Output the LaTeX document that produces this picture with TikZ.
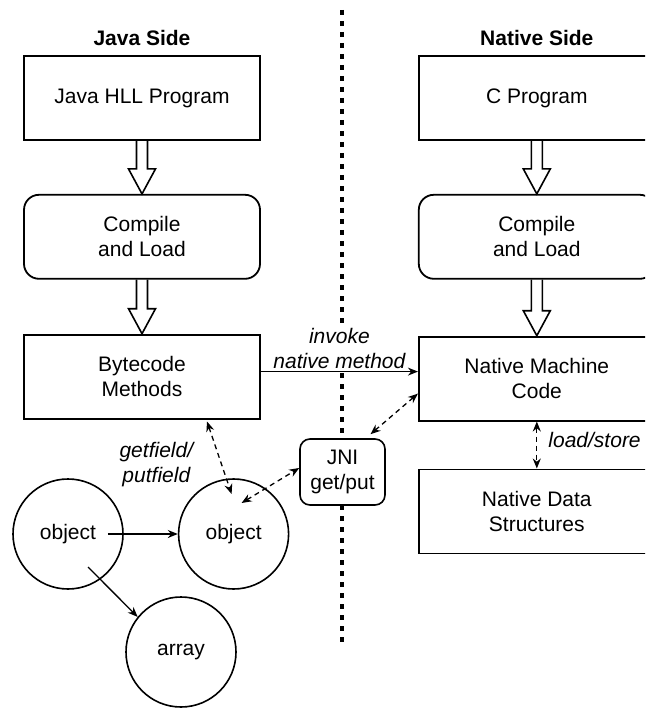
\documentclass[tikz,border=0pt]{standalone}
\usepackage{fontspec}
\setmainfont{Liberation Sans}
\usetikzlibrary{positioning,calc,arrows.meta}

\begin{document}
\begin{tikzpicture}[x=1pt,y=-1pt,>={Stealth[length=10pt,width=8pt]},
  font=\fontsize{21}{25}\selectfont,
  box/.style={draw,line width=1.8pt,align=center,minimum width=236pt,minimum height=84pt,inner sep=2pt},
  rbox/.style={box,rounded corners=15pt},
  blob/.style={draw,circle,line width=1.6pt,minimum size=110pt,inner sep=0pt},
  title/.style={font=\fontsize{21}{25}\selectfont\bfseries,inner sep=2pt},
  lbl/.style={font=\fontsize{21}{25}\selectfont\itshape,align=center,inner sep=2pt},
  link/.style={<->,line width=1.3pt,dash pattern=on 5pt off 4pt},
  divider/.style={line width=3.2pt,dash pattern=on 5pt off 6pt},
  hollow/.style={line width=1.6pt,to path={
    ($(\tikztostart.south)+(-5.5,0)$) -- ($(\tikztotarget.north)+(-5.5,-25)$) -- ++(-8,0)
    -- (\tikztotarget.north) -- ++(13.5,-25) -- ++(-8,0) -- ($(\tikztostart.south)+(5.5,0)$)}}]
\useasboundingbox (0,0) rectangle (645,708);
\clip (0,0) rectangle (645,708);

% dividing line between the two sides
\coordinate (divtop) at (342,10);
\coordinate (divbot) at (342,644);
\draw[divider] (divtop) -- (divbot);

% Java side
\node[box] (jhll) at (142,98) {Java HLL Program};
\node[title,above=7pt of jhll] (jtitle) {Java Side};
\node[rbox,below=53pt of jhll] (jcomp) {Compile\\and Load};
\node[box,below=54pt of jcomp] (jbyte) {Bytecode\\Methods};

% native side
\node[box,right=157pt of jhll] (cprog) {C Program};
\node[title,above=7pt of cprog] (ntitle) {Native Side};
\node[rbox,below=53pt of cprog] (ccomp) {Compile\\and Load};
\node[box,below=56pt of ccomp] (nmc) {Native Machine\\Code};
\node[box,below=47pt of nmc] (nds) {Native Data\\Structures};

% heap
\node[blob] (obj1) at (68,534) {object};
\node[blob,right=54pt of obj1] (obj2) {object};
\node[blob] (arr) at (181,652) {array};
\node[draw,line width=1.6pt,rounded corners=10pt,fill=white,align=center,
  minimum width=85pt,minimum height=66pt,inner sep=2pt] (jni) at (342.5,472) {JNI\\get/put};

\draw[hollow] (jhll) to (jcomp);
\draw[hollow] (jcomp) to (jbyte);
\draw[hollow] (cprog) to (ccomp);
\draw[hollow] (ccomp) to (nmc);

\draw[->,line width=1.3pt] ([shift={(0,-5)}]jbyte.east) --
  node[lbl,above,fill=white] {invoke\\native method} ([shift={(0,-5)}]jbyte.east -| nmc.west);
\draw[link] ([shift={(65,2)}]jbyte.south) --
  node[lbl,pos=0.6,left=26pt] {getfield/\\putfield} ([shift={(-2,-40)}]obj2.center);
\draw[link] ([shift={(8,-31)}]obj2.center) -- ([shift={(0,-4)}]jni.west);
\draw[link] ([shift={(28,-4)}]jni.north) -- ([shift={(0,15)}]nmc.west);
\draw[link] (nmc.south) -- node[lbl,pos=0.4,right=9pt] {load/store} (nds.north);
\draw[->,line width=1.3pt] ([shift={(-16,0)}]obj1.east) -- (obj2.west);
\draw[->,line width=1.3pt] ([shift={(20,33)}]obj1.center) -- (arr.141);
\end{tikzpicture}
\end{document}
